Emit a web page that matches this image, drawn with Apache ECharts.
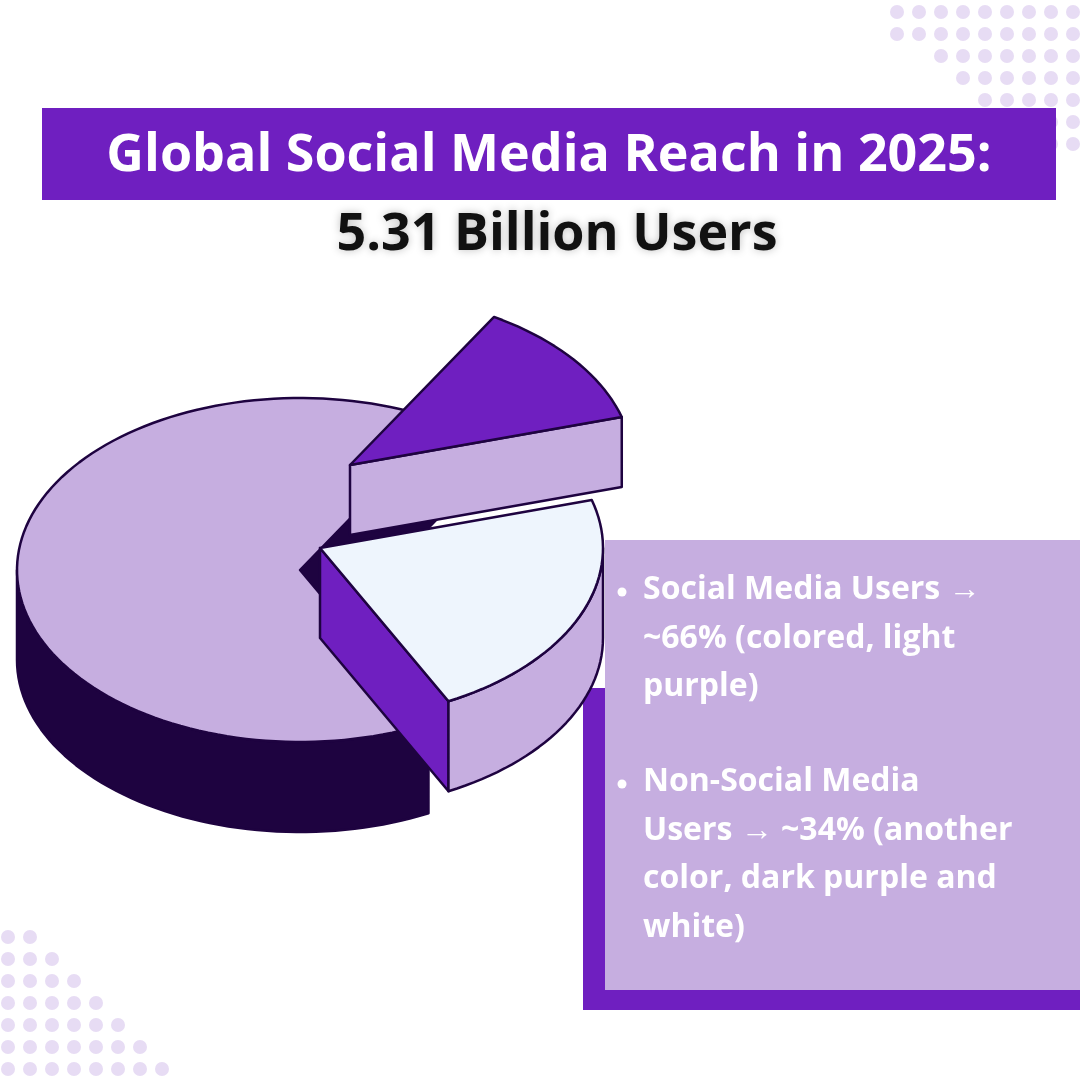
<!DOCTYPE html>
<html><head><meta charset="utf-8">
<script src="https://cdn.jsdelivr.net/npm/echarts@6/dist/echarts.min.js"></script>
<style>html,body{margin:0;padding:0;background:#fff}#c{width:1080px;height:1080px}</style>
</head><body><div id="c"></div>
<script>
const categories = ['Social Media Users', 'Non-Social (dark purple)', 'Non-Social (white)'];
const values = [66, 12, 22];
const title = 'Global Social Media Reach in 2025:';
const subtitle = '5.31 Billion Users';
const bullets = [
  ['Social Media Users →', '~66% (colored, light', 'purple)'],
  ['Non-Social Media', 'Users → ~34% (another', 'color, dark purple and', 'white)']
];

const DARK = '#1e0340', PURP = '#6f1fc0', LIGHT = '#c6aee0', WHITE = '#eef5fd';
const sliceStyle = [
  {dx: 0, dy: 0, depth: 90, top: LIGHT, wall: DARK, cut: DARK},
  {dx: 50, dy: -105, depth: 70, top: PURP, wall: LIGHT, cut: LIGHT},
  {dx: 20, dy: -22, depth: 90, top: WHITE, wall: LIGHT, cut: PURP}
];
const CX = 300, CY = 570, RX = 283, RY = 172, START = 63;
const total = values.reduce((a, b) => a + b, 0);

function renderItem(params, api) {
  const i = params.dataIndex;
  let cum = 0; for (let k = 0; k < i; k++) cum += values[k];
  const s = START + cum / total * 360, e = s + api.value(0) / total * 360;
  const st = sliceStyle[i];
  const cx = CX + st.dx, cy = CY + st.dy, d = st.depth;
  const pt = (a, off) => [cx + RX * Math.cos(a * Math.PI / 180), cy + RY * Math.sin(a * Math.PI / 180) + off];
  const arc = (a0, a1, off) => { const p = []; const n = Math.max(2, Math.ceil(Math.abs(a1 - a0) / 2)); for (let j = 0; j <= n; j++) p.push(pt(a0 + (a1 - a0) * j / n, off)); return p; };
  const line = {stroke: DARK, lineWidth: 2.5, lineJoin: 'round'};
  const ch = [];
  const vis = a => Math.sin(a * Math.PI / 180) > 0;
  if (vis(s - 90)) ch.push({type: 'polygon', shape: {points: [[cx, cy], pt(s, 0), pt(s, d), [cx, cy + d]]}, style: Object.assign({fill: st.cut}, line)});
  if (vis(e + 90)) ch.push({type: 'polygon', shape: {points: [[cx, cy], pt(e, 0), pt(e, d), [cx, cy + d]]}, style: Object.assign({fill: st.cut}, line)});
  for (let base = -360; base <= 360; base += 360) {
    const a0 = Math.max(s, base), a1 = Math.min(e, base + 180);
    if (a1 > a0) {
      const pts = arc(a0, a1, 0).concat(arc(a1, a0, d));
      ch.push({type: 'polygon', shape: {points: pts}, style: Object.assign({fill: st.wall}, line)});
    }
  }
  ch.push({type: 'polygon', shape: {points: [[cx, cy]].concat(arc(s, e, 0))}, style: Object.assign({fill: st.top}, line)});
  return {type: 'group', children: ch};
}

const graphics = [];
for (let r = 0; r < 7; r++) {
  for (let c = 0; c < 9; c++) {
    const x = 897 + c * 22, y = 12 + r * 22;
    if (c < r && !(r === 1 && c === 0)) continue;
    if (x > 1075) continue;
    graphics.push({type: 'circle', shape: {cx: x, cy: y, r: 7}, style: {fill: '#e7dcf4'}, z: 0});
  }
}
for (let r = 0; r < 7; r++) {
  for (let c = 0; c <= r + 1; c++) {
    const x = 8 + c * 22, y = 937 + r * 22;
    if (y > 1078 || c > 7) continue;
    graphics.push({type: 'circle', shape: {cx: x, cy: y, r: 7}, style: {fill: '#e7dcf4'}, z: 0});
  }
}
graphics.push(
  {type: 'rect', shape: {x: 42, y: 108, width: 1014, height: 92}, style: {fill: PURP}, z: 1},
  {type: 'text', x: 549, y: 156, style: {text: title, fill: '#fff', font: 'bold 52px "Open Sans"', align: 'center', verticalAlign: 'middle'}, z: 2},
  {type: 'text', x: 557, y: 235, style: {text: subtitle, fill: '#111', font: 'bold 52px "Open Sans"', align: 'center', verticalAlign: 'middle', textShadowColor: 'rgba(0,0,0,0.25)', textShadowBlur: 8}, z: 2},
  {type: 'rect', shape: {x: 583, y: 688, width: 497, height: 322}, style: {fill: PURP}, z: 1},
  {type: 'rect', shape: {x: 605, y: 540, width: 475, height: 450}, style: {fill: LIGHT}, z: 1}
);
const starts = [590, 782];
bullets.forEach((b, bi) => {
  graphics.push({type: 'circle', shape: {cx: 622, cy: starts[bi] + 2, r: 4.5}, style: {fill: '#fff'}, z: 3});
  b.forEach((t, li) => graphics.push({type: 'text', x: 643, y: starts[bi] + li * 48.5, style: {text: t, fill: '#fff', font: 'bold 32px "Open Sans"', verticalAlign: 'middle'}, z: 3}));
});

const chart = echarts.init(document.getElementById('c'), null, {renderer: 'canvas'});
chart.setOption({
  animation: false,
  graphic: graphics,
  series: [{type: 'custom', coordinateSystem: 'none', renderItem, data: values.map((v, i) => ({name: categories[i], value: [v]})), z: 5}]
});
</script></body></html>
